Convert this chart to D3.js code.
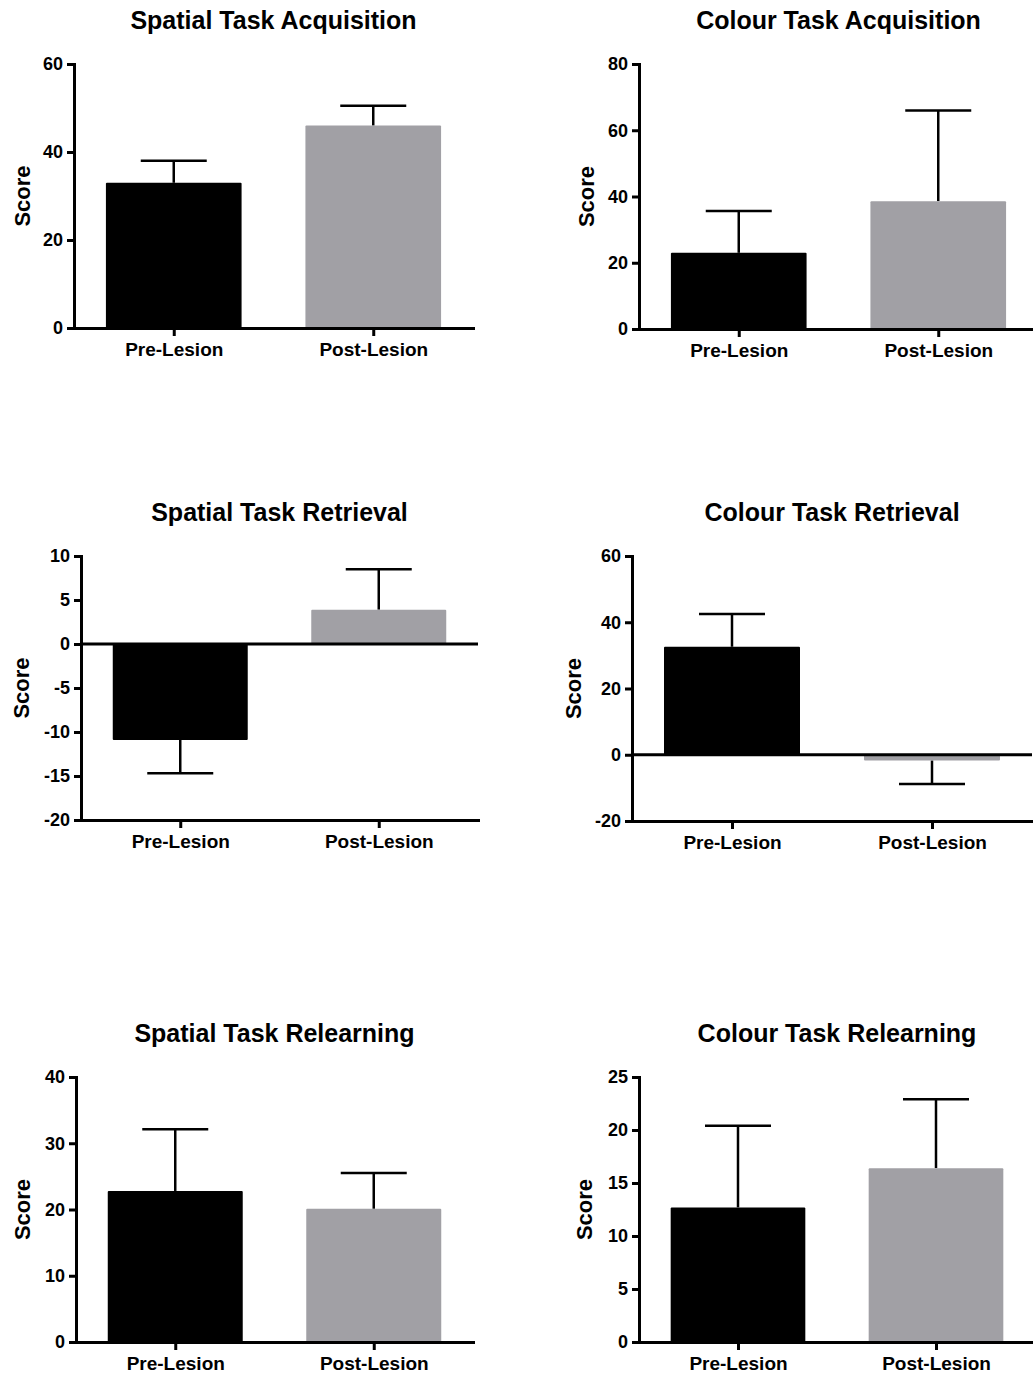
<!DOCTYPE html>
<html>
<head>
<meta charset="utf-8">
<script src="https://cdn.jsdelivr.net/npm/d3@7"></script>
<style>
  body { margin: 0; background: #fff; }
  text { font-family: "Liberation Sans", Arial, Helvetica, sans-serif; font-weight: 700; fill: #000; }
</style>
</head>
<body>
<script>
// categories on the x axis of every panel
var categories = ["Pre-Lesion", "Post-Lesion"];

var panelTitles = ["Spatial Task Acquisition", "Colour Task Acquisition",
                   "Spatial Task Retrieval", "Colour Task Retrieval",
                   "Spatial Task Relearning", "Colour Task Relearning"];

// mean score per panel (pre, post)
var meanValues = [[33.0, 46.0], [23.0, 38.6], [-10.9, 3.9], [32.6, -1.7], [22.8, 20.1], [12.7, 16.4]];
// error bar length per panel (pre, post)
var errorValues = [[5.0, 4.5], [12.6, 27.4], [3.8, 4.6], [9.9, 7.1], [9.3, 5.4], [7.7, 6.5]];

// y axis range and tick step per panel
var yDomains = [[0, 60], [0, 80], [-20, 10], [-20, 60], [0, 40], [0, 25]];
var tickSteps = [20, 20, 5, 20, 10, 5];

var barColours = ["#000000", "#a1a0a5"];

// where each panel's plot area sits on the page
var layout = [
    {x0: 74,  x1: 473,  y0: 64,   y1: 328,  lab: 44},
    {x0: 639, x1: 1038, y0: 64,   y1: 329,  lab: 45},
    {x0: 81,  x1: 478,  y0: 556,  y1: 820,  lab: 52},
    {x0: 632, x1: 1032, y0: 556,  y1: 821,  lab: 51},
    {x0: 76,  x1: 473,  y0: 1077, y1: 1342, lab: 46},
    {x0: 639, x1: 1035, y0: 1077, y1: 1342, lab: 47}
];

var svg = d3.select('body').append('svg').attr('width', 1033).attr('height', 1376);

layout.forEach(function(L, i){
    var w = L.x1 - L.x0, h = L.y1 - L.y0;
    var g = svg.append('g').attr('transform', 'translate(' + L.x0 + ',' + L.y0 + ')');

    var scaleX = d3.scalePoint().domain(categories).range([0, w]).padding(0.5);
    var scaleY = d3.scaleLinear().domain(yDomains[i]).range([h, 0]);
    var barW = 0.34 * w;
    var capW = 66;

    var rows = categories.map(function(c, j){
        return {cat: c, v: meanValues[i][j], e: errorValues[i][j], col: barColours[j]};
    });

    //error bars go first so the bar covers the bottom of the stem
    var err = g.selectAll('.err').data(rows).enter().append('g').attr('class', 'err');
    err.append('line')
        .attr('x1', function(d){ return scaleX(d.cat); })
        .attr('x2', function(d){ return scaleX(d.cat); })
        .attr('y1', function(d){ return scaleY(d.v); })
        .attr('y2', function(d){ return scaleY(d.v + (d.v < 0 ? -d.e : d.e)); })
        .attr('stroke', '#000').attr('stroke-width', 2.5);
    err.append('line')
        .attr('x1', function(d){ return scaleX(d.cat) - capW / 2; })
        .attr('x2', function(d){ return scaleX(d.cat) + capW / 2; })
        .attr('y1', function(d){ return scaleY(d.v + (d.v < 0 ? -d.e : d.e)); })
        .attr('y2', function(d){ return scaleY(d.v + (d.v < 0 ? -d.e : d.e)); })
        .attr('stroke', '#000').attr('stroke-width', 2.5);

    g.selectAll('.bar').data(rows).enter().append('rect')
        .attr('class', 'bar')
        .attr('x', function(d){ return scaleX(d.cat) - barW / 2; })
        .attr('width', barW)
        .attr('y', function(d){ return scaleY(Math.max(0, d.v)); })
        .attr('height', function(d){ return Math.abs(scaleY(d.v) - scaleY(0)); })
        .attr('rx', 1)
        .attr('fill', function(d){ return d.col; });

    // zero line when the axis goes below zero
    if (yDomains[i][0] < 0) {
        g.append('line')
            .attr('x1', 0).attr('x2', w)
            .attr('y1', scaleY(0)).attr('y2', scaleY(0))
            .attr('stroke', '#000').attr('stroke-width', 3);
    }

    var ticks = d3.range(yDomains[i][0], yDomains[i][1] + tickSteps[i] / 2, tickSteps[i]);
    var yAxis = g.append('g')
        .call(d3.axisLeft(scaleY).tickValues(ticks).tickSize(7).tickPadding(4).tickSizeOuter(0)
            .tickFormat(function(d){ return String(d); }));
    var xAxis = g.append('g')
        .attr('transform', 'translate(0,' + h + ')')
        .call(d3.axisBottom(scaleX).tickSize(8).tickPadding(7).tickSizeOuter(0));

    [yAxis, xAxis].forEach(function(a){
        a.attr('font-family', null);
        a.select('.domain').attr('stroke', '#000').attr('stroke-width', 3).attr('stroke-linecap', 'square');
        a.selectAll('.tick line').attr('stroke', '#000').attr('stroke-width', 3);
    });
    yAxis.selectAll('text').style('font-size', '18px');
    xAxis.selectAll('text').style('font-size', '19px');

    g.append('text')
        .text(panelTitles[i])
        .attr('x', w / 2).attr('y', -35)
        .style('text-anchor', 'middle')
        .style('font-size', '25px');

    g.append('text')
        .text('Score')
        .attr('transform', 'translate(' + (-L.lab) + ',' + (h / 2) + ')rotate(-90)')
        .style('text-anchor', 'middle')
        .style('font-size', '22px');
});
</script>
</body>
</html>
